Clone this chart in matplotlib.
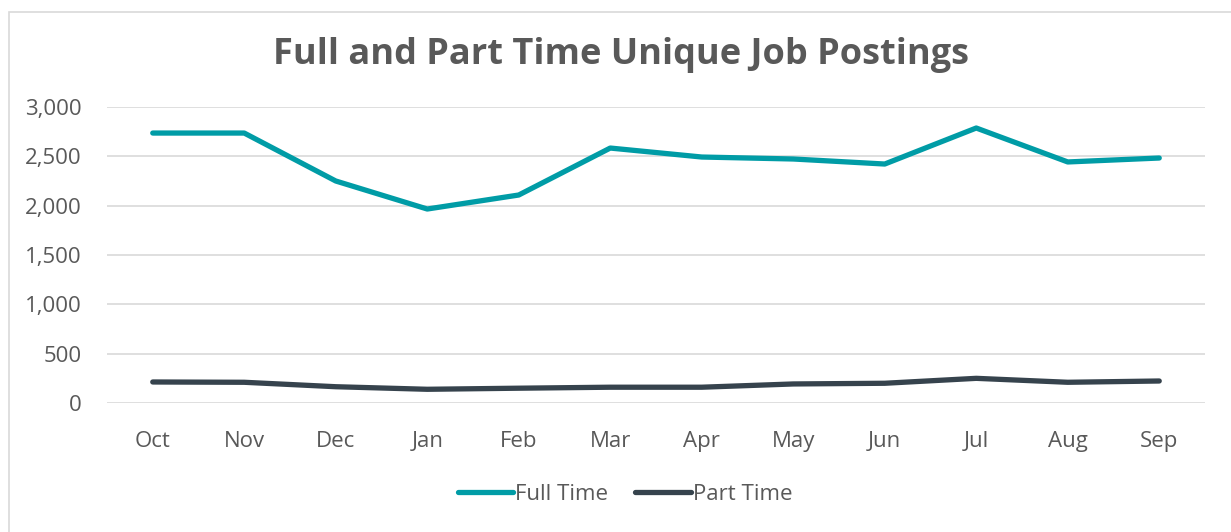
import matplotlib.pyplot as plt
from matplotlib.patches import Rectangle

months = ['Oct', 'Nov', 'Dec', 'Jan', 'Feb', 'Mar', 'Apr', 'May', 'Jun', 'Jul', 'Aug', 'Sep']
full_time = [2736, 2736, 2250, 1966, 2108, 2584, 2493, 2473, 2422, 2787, 2443, 2483]
part_time = [213, 210, 165, 139, 150, 160, 160, 193, 200, 250, 210, 223]

plt.rcParams['font.family'] = ['Open Sans', 'DejaVu Sans']
txt = '#595959'

fig = plt.figure(figsize=(12.31, 5.32), dpi=100)
ax = fig.add_axes([107/1231, 1 - 403/532, (1205 - 107)/1231, (403 - 107)/532])

x = range(len(months))
ax.plot(x, full_time, color='#009CA6', lw=3.8, solid_capstyle='round', label='Full Time')
ax.plot(x, part_time, color='#36434D', lw=3.8, solid_capstyle='round', label='Part Time')

ax.set_xlim(-0.5, len(months) - 0.5)
ax.set_ylim(0, 3000)
ax.set_yticks(range(0, 3001, 500))
ax.set_yticklabels([f'{v:,}' for v in range(0, 3001, 500)])
ax.set_xticks(list(x))
ax.set_xticklabels(months)
ax.tick_params(length=0, labelsize=16, colors=txt)
ax.tick_params(axis='y', pad=18)
ax.tick_params(axis='x', pad=20)
ax.grid(axis='y', color='#D9D9D9', lw=1.2)
ax.set_axisbelow(True)
for s in ax.spines.values():
    s.set_visible(False)

fig.text(621/1231, 1 - 55/532, 'Full and Part Time Unique Job Postings', ha='center', va='center',
         fontsize=26, fontweight='bold', color=txt)

leg = fig.legend(loc='center', bbox_to_anchor=(625/1231, 1 - 494/532), ncol=2, frameon=False,
                 fontsize=16, handlelength=2.5, handletextpad=0.1, columnspacing=1.2)
for t in leg.get_texts():
    t.set_color(txt)

fig.patches.append(Rectangle((9/1231, -0.01), 1.0, 1 - 12/532 + 0.01, transform=fig.transFigure,
                             fill=False, edgecolor='#D9D9D9', lw=1.2))

fig.savefig('out.png', dpi=100)
